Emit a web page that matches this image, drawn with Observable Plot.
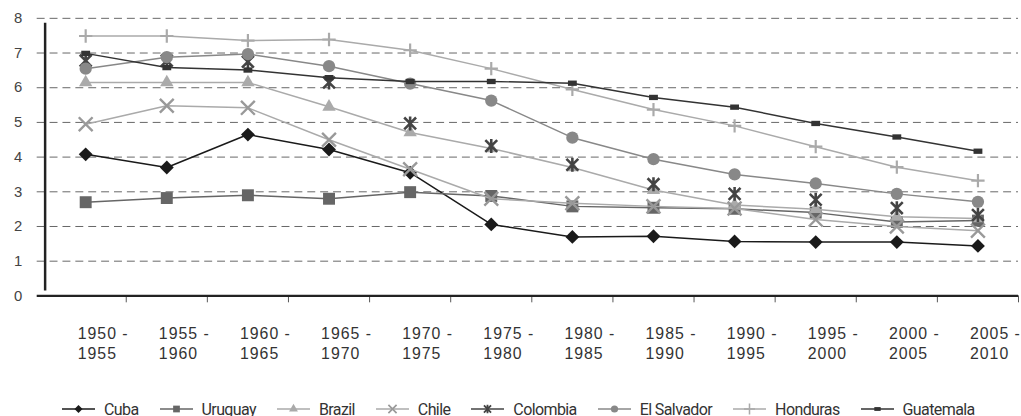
<!DOCTYPE html>
<html><head><meta charset="utf-8">
<script src="https://cdn.jsdelivr.net/npm/d3@7"></script>
<script src="https://cdn.jsdelivr.net/npm/@observablehq/plot@0.6"></script>
<style>
html,body{margin:0;padding:0;background:#fff;overflow:hidden;width:1021px;height:416px;}
#wrap{position:relative;width:1021px;height:416px;overflow:hidden;}
#legend{position:absolute;left:62px;top:399px;height:20px;display:flex;align-items:center;gap:21px;font-family:Roboto,"Liberation Sans",sans-serif;font-size:16px;letter-spacing:-0.6px;color:#333;white-space:nowrap;}
#legend .item{display:flex;align-items:center;gap:9px;}
#legend svg{display:block;overflow:visible;}
#chart g[aria-label="x-axis tick label"] text{letter-spacing:1px;}
</style></head><body><div id="wrap"><div id="chart"></div><div id="legend"></div></div>
<script>
// ---- data ----
const periods = ["1950 - 1955","1955 - 1960","1960 - 1965","1965 - 1970","1970 - 1975","1975 - 1980","1980 - 1985","1985 - 1990","1990 - 1995","1995 - 2000","2000 - 2005","2005 - 2010"];
const countries = ["Cuba","Uruguay","Brazil","Chile","Colombia","El Salvador","Honduras","Guatemala"];
const cuba       = [4.08, 3.70, 4.65, 4.22, 3.55, 2.06, 1.70, 1.72, 1.57, 1.55, 1.55, 1.44];
const uruguay    = [2.70, 2.82, 2.90, 2.80, 2.99, 2.88, 2.58, 2.54, 2.51, 2.40, 2.13, 2.17];
const brazil     = [6.15, 6.15, 6.15, 5.45, 4.71, 4.25, 3.70, 3.05, 2.62, 2.50, 2.28, 2.23];
const chile      = [4.95, 5.48, 5.42, 4.50, 3.65, 2.80, 2.67, 2.58, 2.52, 2.20, 2.00, 1.88];
const colombia   = [6.78, 6.78, 6.75, 6.15, 4.97, 4.32, 3.78, 3.22, 2.94, 2.77, 2.53, 2.33];
const elSalvador = [6.55, 6.88, 6.97, 6.62, 6.12, 5.63, 4.56, 3.94, 3.50, 3.24, 2.94, 2.71];
const honduras   = [7.49, 7.49, 7.36, 7.39, 7.08, 6.55, 5.95, 5.37, 4.90, 4.30, 3.71, 3.32];
const guatemala  = [6.99, 6.58, 6.51, 6.29, 6.18, 6.18, 6.13, 5.72, 5.44, 4.97, 4.58, 4.17];
const yTicks = [0,1,2,3,4,5,6,7,8];

const seriesValues = [cuba, uruguay, brazil, chile, colombia, elSalvador, honduras, guatemala];

// ---- styles ----
const rectSymbol = {draw(ctx, size){ const s = Math.sqrt(size); const w = s*1.2, h = s*0.72; ctx.rect(-w/2, -h/2, w, h); }};
const starSymbol = {draw(ctx, size){ const r = Math.sqrt(size)*0.62, q = r*0.85;
  ctx.moveTo(0,-r); ctx.lineTo(0,r);
  ctx.moveTo(-q,-q); ctx.lineTo(q,q);
  ctx.moveTo(-q,q); ctx.lineTo(q,-q); }};
const styles = [
  {line:"#1a1a1a", showLine:true,  symbol:"diamond2", r:6.3, fill:"#1a1a1a", stroke:"none", sw:0, lr:3.6},
  {line:"#666666", showLine:true,  symbol:"square", r:6.8, fill:"#666666", stroke:"none", sw:0, lr:3.8},
  {line:"#aaaaaa", showLine:true,  symbol:"triangle", r:5.0, fill:"#aaaaaa", stroke:"none", sw:0, lr:3.3},
  {line:"#aaaaaa", showLine:true,  symbol:"times", r:6.4, fill:"none", stroke:"#999999", sw:2.4, lr:3.8},
  {line:"#444444", showLine:false, symbol:starSymbol, r:6.4, fill:"none", stroke:"#444444", sw:2.6, lr:3.8},
  {line:"#888888", showLine:true,  symbol:"circle", r:6.2, fill:"#888888", stroke:"none", sw:0, lr:3.6},
  {line:"#aaaaaa", showLine:true,  symbol:"plus", r:4.4, fill:"none", stroke:"#aaaaaa", sw:2.2, lr:3.6},
  {line:"#333333", showLine:true,  symbol:rectSymbol, r:4.2, fill:"#333333", stroke:"none", sw:0, lr:3.0}
];

// ---- table ----
const rows = [];
countries.forEach((c, k) => seriesValues[k].forEach((v, i) => rows.push({country:c, i, v})));
const idx = periods.map((_, i) => i);
const boundaries = periods.map((_, i) => i + 0.5);

const seriesMarks = countries.flatMap((c, k) => {
  const st = styles[k];
  const d = rows.filter(r => r.country === c);
  const m = [];
  if (st.showLine) m.push(Plot.line(d, {x:"i", y:"v", stroke:st.line, strokeWidth:1.5}));
  m.push(Plot.dot(d, {x:"i", y:"v", symbol:st.symbol, r:st.r, fill:st.fill, stroke:st.stroke, strokeWidth:st.sw}));
  return m;
});

const chart = Plot.plot({
  width:1030, height:372,
  marginLeft:45, marginRight:3, marginTop:18, marginBottom:74,
  x:{type:"linear", domain:[-0.5, periods.length - 0.5], axis:null},
  y:{domain:[0,8], axis:null},
  style:{fontFamily:"'Liberation Sans', Arial, sans-serif", background:"#fff", overflow:"visible"},
  marks:[
    Plot.gridY(yTicks.slice(1), {stroke:"#666", strokeOpacity:1, strokeWidth:1, strokeDasharray:"8,5", insetLeft:-8}),
    Plot.axisY(yTicks, {tickSize:0, tickPadding:23, fontSize:15, fill:"#444", label:null}),
    Plot.axisX(idx, {tickSize:0, tickPadding:29, tickFormat:i => periods[i].replace(" - ", " -\n"), textAnchor:"start", dx:-8, lineHeight:1.25, fontSize:16, fill:"#333", label:null}),
    Plot.axisX(boundaries, {tickSize:7, stroke:"#555", tickFormat:() => "", label:null}),
    ...seriesMarks,
    Plot.ruleY([0], {stroke:"#222", strokeWidth:2.5, insetLeft:-8}),
    Plot.ruleX([-0.5], {y1:0, y2:8, stroke:"#222", strokeWidth:2.5, insetTop:-5, insetBottom:-5})
  ]
});
document.getElementById("chart").appendChild(chart);

// ---- legend ----
const symMap = {diamond2:d3.symbolDiamond2, square:d3.symbolSquare, triangle:d3.symbolTriangle, times:d3.symbolTimes, asterisk:d3.symbolAsterisk, circle:d3.symbolCircle, plus:d3.symbolPlus};
const legend = d3.select("#legend");
countries.forEach((c, k) => {
  const st = styles[k];
  const item = legend.append("div").attr("class", "item");
  const svg = item.append("svg").attr("width", 33).attr("height", 14);
  svg.append("line").attr("x1", 0).attr("x2", 33).attr("y1", 7).attr("y2", 7).attr("stroke", st.line).attr("stroke-width", 1.5);
  const type = typeof st.symbol === "string" ? symMap[st.symbol] : st.symbol;
  svg.append("path").attr("transform", "translate(16.5,7)")
    .attr("d", d3.symbol(type, st.lr * st.lr * Math.PI)())
    .attr("fill", st.fill).attr("stroke", st.stroke).attr("stroke-width", st.sw * 0.7);
  item.append("span").text(c);
});
</script></body></html>
